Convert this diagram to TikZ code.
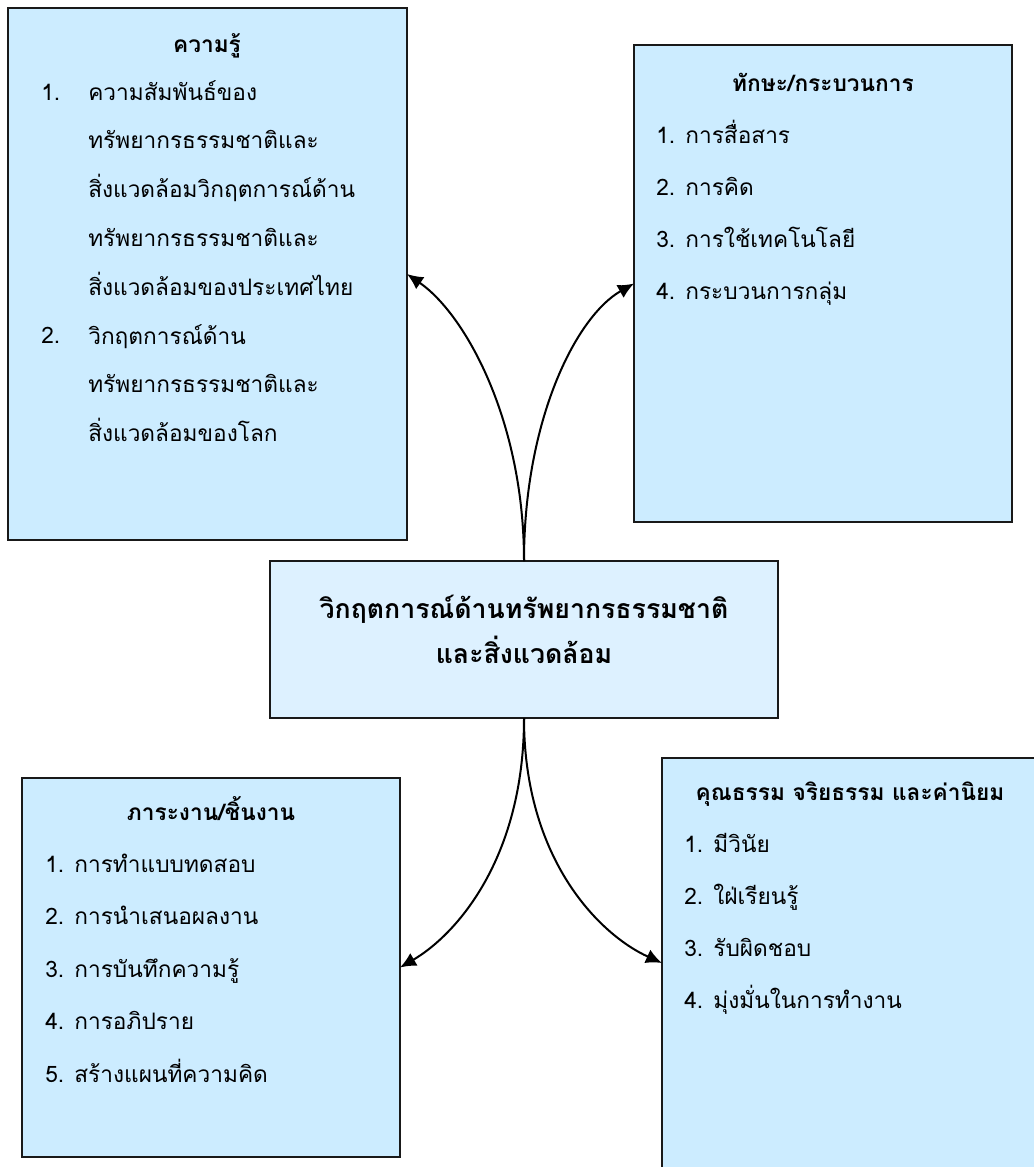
\documentclass[tikz,border=0pt]{standalone}
\usepackage{fontspec}
\setmainfont[Script=Thai]{Loma}
\usetikzlibrary{arrows.meta,calc}
\definecolor{boxblue}{RGB}{204,236,255}
\definecolor{coreblue}{RGB}{221,241,255}

\begin{document}
\begin{tikzpicture}[x=0.75pt,y=0.75pt,yscale=-1,xscale=1,
  box/.style={draw=black!90,line width=1.4pt,fill=boxblue,inner sep=0pt,outer sep=0pt,anchor=north west},
  head/.style={anchor=base,inner sep=0.75pt,font=\bfseries\fontsize{17}{20}\selectfont},
  item/.style={anchor=base west,inner sep=0.75pt,font=\fontsize{17}{20}\selectfont},
  link/.style={line width=1.5pt,-{Latex[length=12pt,width=11pt]}}]
\clip (0,0) rectangle (1034,1167);

% Shape: Rectangle
\draw (8,8) node (know) [box,minimum width=299.25pt,minimum height=399pt] {};
% Shape: Rectangle
\draw (634,45) node (skill) [box,minimum width=283.5pt,minimum height=357.75pt] {};
% Shape: Rectangle
\draw (270,561) node (core) [box,fill=coreblue,minimum width=381pt,minimum height=117.75pt] {};
% Shape: Rectangle
\draw (22,778) node (task) [box,minimum width=283.5pt,minimum height=284.25pt] {};
% Shape: Rectangle
\draw (662,758) node (value) [box,minimum width=300pt,minimum height=307.5pt] {};

% Text Node
\draw (207,52) node (know-head) [head] {ความรู้};
\draw (40,100) node (know-n1) [item] {1.};
\draw (40,343) node (know-n2) [item] {2.};
\foreach \txt [count=\i] in {ความสัมพันธ์ของ,ทรัพยากรธรรมชาติและ,สิ่งแวดล้อมวิกฤตการณ์ด้าน,ทรัพยากรธรรมชาติและ,สิ่งแวดล้อมของประเทศไทย,วิกฤตการณ์ด้าน,ทรัพยากรธรรมชาติและ,สิ่งแวดล้อมของโลก}
  \draw (87,{100+(\i-1)*48.8}) node (know-\i) [item] {\txt};

% Text Node
\draw (823,91) node (skill-head) [head] {ทักษะ/กระบวนการ};
\foreach \txt [count=\i] in {การสื่อสาร,การคิด,การใช้เทคโนโลยี,กระบวนการกลุ่ม}
  \draw (655,{143+(\i-1)*52.3}) node (skill-\i) [item] {\i. \txt};

% Text Node
\draw (524,618) node (core-1) [head,font=\bfseries\fontsize{20}{24}\selectfont] {วิกฤตการณ์ด้านทรัพยากรธรรมชาติ};
\draw (524,663) node (core-2) [head,font=\bfseries\fontsize{20}{24}\selectfont] {และสิ่งแวดล้อม};

% Text Node
\draw (211,820) node (task-head) [head] {ภาระงาน/ชิ้นงาน};
\foreach \txt [count=\i] in {การทำแบบทดสอบ,การนำเสนอผลงาน,การบันทึกความรู้,การอภิปราย,สร้างแผนที่ความคิด}
  \draw (44,{872+(\i-1)*52.5}) node (task-\i) [item] {\i. \txt};

% Text Node
\draw (850,800) node (value-head) [head] {คุณธรรม จริยธรรม และค่านิยม};
\foreach \txt [count=\i] in {มีวินัย,ใฝ่เรียนรู้,รับผิดชอบ,มุ่งมั่นในการทำงาน}
  \draw (683,{852+(\i-1)*52}) node (value-\i) [item] {\i. \txt};

% Curve Lines
\draw [link] (core.north) .. controls ($(core.north)+(0,-141)$) and ($(know.east)+(58,40)$) .. (know.east);
\draw [link] (core.north) .. controls ($(core.north)+(0,-141)$) and ($(skill.west)+(-58,33)$) .. (skill.west);
\draw [link] (core.south) .. controls ($(core.south)+(0,142)$) and ($(task.east)+(55,-32)$) .. (task.east);
\draw [link] (core.south) .. controls ($(core.south)+(0,142)$) and ($(value.west)+(-62,-28)$) .. (value.west);

\end{tikzpicture}
\end{document}
